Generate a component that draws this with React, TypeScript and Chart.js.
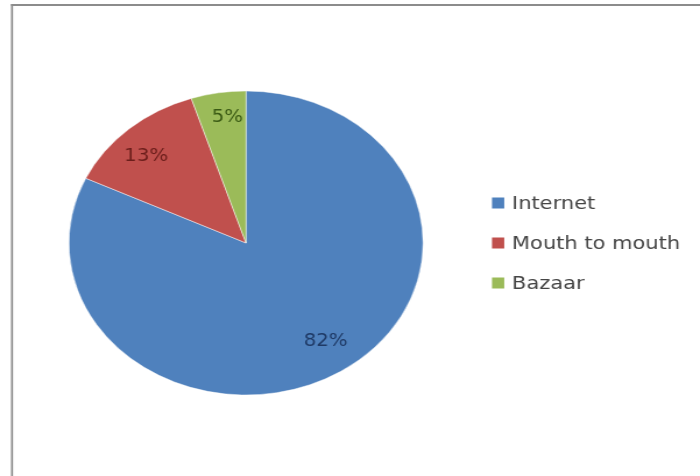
import React, { useEffect, useRef } from "react";
import { Chart, registerables } from "chart.js";

Chart.register(...registerables);

const categories = ["Internet", "Mouth to mouth", "Bazaar"];
const values = [82, 13, 5];
const valueLabels = ["82%", "13%", "5%"];
const sliceColors = ["#4F81BD", "#C0504D", "#9BBB59"];
const labelColors = ["#1F3A66", "#6B1E1B", "#3A5A14"];

// The reference is horizontally stretched: draw at a narrower internal width and scale X.
const SX = 700 / 601;
const W = 620; // a little wider than the visible area so the canvas edge is off-screen
const H = 476;
const CX = 246 / SX;
const CY = 243;
const R = 152;

const labelRadiusFactor = [0.79, 0.8, 0.83];
const labelAngleShift = [-0.04, -0.06, 0.03];

const framePlugin = {
  id: "frame",
  beforeDraw(chart: any) {
    const ctx = chart.ctx;
    ctx.save();
    ctx.fillStyle = "#ffffff";
    ctx.fillRect(0, 0, chart.width, chart.height);
    ctx.fillStyle = "#8c8c8c";
    ctx.fillRect(11 / SX, 4, 2 / SX, chart.height - 4);
    ctx.fillRect(11 / SX, 4, chart.width - 11 / SX, 2);
    ctx.restore();
  },
};

const sliceLabelPlugin = {
  id: "sliceLabels",
  afterDatasetsDraw(chart: any) {
    const ctx = chart.ctx;
    const meta = chart.getDatasetMeta(0);
    ctx.save();
    ctx.font = "17px 'DejaVu Sans'";
    ctx.textAlign = "center";
    ctx.textBaseline = "middle";
    meta.data.forEach((arc: any, i: number) => {
      const p = arc.getProps(["x", "y", "startAngle", "endAngle", "outerRadius"], true);
      const mid = (p.startAngle + p.endAngle) / 2 + labelAngleShift[i];
      const r = p.outerRadius * labelRadiusFactor[i];
      ctx.fillStyle = labelColors[i];
      ctx.fillText(valueLabels[i], p.x + Math.cos(mid) * r, p.y + Math.sin(mid) * r);
    });
    ctx.restore();
  },
};

const legendPlugin = {
  id: "customLegend",
  afterDraw(chart: any) {
    const ctx = chart.ctx;
    const labels = chart.data.labels as string[];
    const colors = chart.data.datasets[0].backgroundColor as string[];
    const boxX = 492 / SX;
    const textX = 512 / SX;
    const rowY = [203, 243, 283];
    ctx.save();
    ctx.font = "18px 'DejaVu Sans'";
    ctx.textAlign = "left";
    ctx.textBaseline = "middle";
    labels.forEach((lab, i) => {
      ctx.fillStyle = colors[i];
      ctx.fillRect(boxX, rowY[i] - 5.5, 10.5, 11);
      ctx.fillStyle = "#454545";
      ctx.fillText(lab, textX, rowY[i] + 1);
    });
    ctx.restore();
  },
};

export default function App() {
  const ref = useRef<HTMLCanvasElement | null>(null);

  useEffect(() => {
    if (!ref.current) return;
    const chart = new Chart(ref.current, {
      type: "pie",
      data: {
        labels: categories,
        datasets: [
          {
            data: values,
            backgroundColor: sliceColors,
            borderColor: "rgba(255,255,255,0.45)",
            borderWidth: 1,
          },
        ],
      },
      options: {
        responsive: false,
        animation: false,
        devicePixelRatio: 1,
        layout: {
          padding: {
            left: CX - R - 0.5,
            right: W - CX - R - 0.5,
            top: CY - R - 0.5,
            bottom: H - CY - R - 0.5,
          },
        },
        plugins: {
          legend: { display: false },
          tooltip: { enabled: false },
        },
      },
      plugins: [framePlugin, sliceLabelPlugin, legendPlugin],
    });
    return () => chart.destroy();
  }, []);

  return (
    <div
      style={{
        position: "fixed",
        left: 0,
        top: 0,
        width: 700,
        height: 476,
        overflow: "hidden",
        background: "#ffffff",
      }}
    >
      <div
        style={{
          position: "absolute",
          left: 0,
          top: 0,
          width: W,
          height: H,
          transform: `scaleX(${SX})`,
          transformOrigin: "0 0",
        }}
      >
        <canvas ref={ref} width={W} height={H} style={{ display: "block" }} />
      </div>
    </div>
  );
}
